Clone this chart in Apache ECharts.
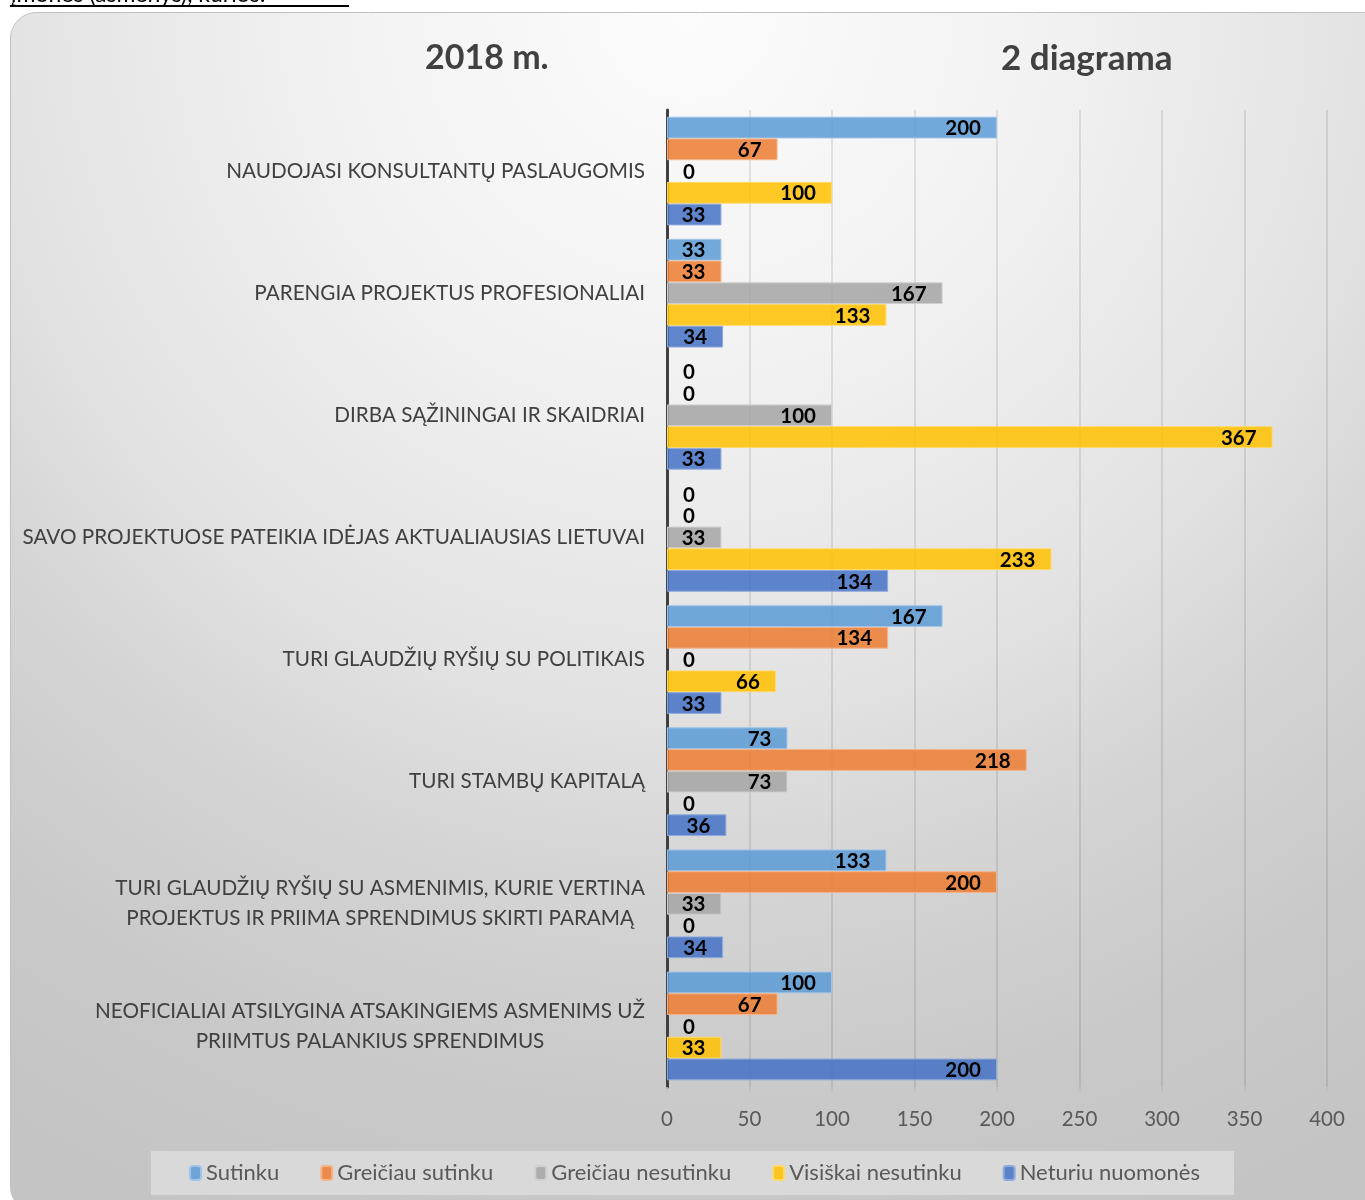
<!DOCTYPE html>
<html>
<head>
<meta charset="utf-8">
<style>
  html, body { margin: 0; padding: 0; background: #ffffff; }
  #chart { width: 1365px; height: 1200px; }
</style>
<script src="https://cdn.jsdelivr.net/npm/echarts@6/dist/echarts.min.js"></script>
</head>
<body>
<div id="chart"></div>
<script>
const categories = [
  'NAUDOJASI KONSULTANTŲ PASLAUGOMIS',
  'PARENGIA PROJEKTUS PROFESIONALIAI',
  'DIRBA SĄŽININGAI IR SKAIDRIAI',
  'SAVO PROJEKTUOSE PATEIKIA IDĖJAS AKTUALIAUSIAS LIETUVAI',
  'TURI GLAUDŽIŲ RYŠIŲ SU POLITIKAIS',
  'TURI STAMBŲ KAPITALĄ',
  'TURI GLAUDŽIŲ RYŠIŲ SU ASMENIMIS, KURIE VERTINA\nPROJEKTUS IR PRIIMA SPRENDIMUS SKIRTI PARAMĄ',
  'NEOFICIALIAI ATSILYGINA ATSAKINGIEMS ASMENIMS UŽ\nPRIIMTUS PALANKIUS SPRENDIMUS'
];
const seriesNames = ['Sutinku', 'Greičiau sutinku', 'Greičiau nesutinku', 'Visiškai nesutinku', 'Neturiu nuomonės'];
const sutinku            = [200, 33, 0, 0, 167, 73, 133, 100];
const greiciauSutinku    = [67, 33, 0, 0, 134, 218, 200, 67];
const greiciauNesutinku  = [0, 167, 100, 33, 0, 73, 33, 0];
const visiskaiNesutinku  = [100, 133, 367, 233, 66, 0, 0, 33];
const neturiuNuomones    = [33, 34, 33, 134, 33, 36, 34, 200];
const xTicks = [0, 50, 100, 150, 200, 250, 300, 350, 400];
const titleLeft = '2018 m.';
const titleRight = '2 diagrama';
const topText = 'įmonės (asmenys), kurios:';

const seriesData = [sutinku, greiciauSutinku, greiciauNesutinku, visiskaiNesutinku, neturiuNuomones];
const colors = ['rgba(91,155,213,0.85)', 'rgba(237,125,49,0.85)', 'rgba(165,165,165,0.85)', 'rgba(255,192,0,0.85)', 'rgba(68,114,196,0.85)'];
const borders = ['#9fc4e8', '#f4b48a', '#cfcfcf', '#ffd966', '#8faadc'];
const FONT = 'Lato';

const chart = echarts.init(document.getElementById('chart'), null, { renderer: 'canvas' });

const series = seriesNames.map((name, i) => ({
  name: name,
  type: 'bar',
  barGap: '0%',
  barCategoryGap: '11%',
  itemStyle: { color: colors[i], borderColor: borders[i], borderWidth: 1 },
  label: {
    show: true,
    position: 'insideRight',
    distance: 16,
    offset: [0, 1],
    color: '#000000',
    fontWeight: 'bold',
    fontFamily: FONT,
    fontSize: 20.5
  },
  data: seriesData[i].map(v => v === 0
    ? { value: v, itemStyle: { borderWidth: 0 }, label: { position: 'right', distance: 16 } }
    : v)
}));

const option = {
  animation: false,
  textStyle: { fontFamily: FONT },
  graphic: [
    {
      type: 'rect', z: -10, silent: true,
      shape: { x: 10.5, y: 12.5, width: 1380, height: 1200, r: 26 },
      style: {
        fill: {
          type: 'radial', x: 687, y: 12, r: 1310, global: true,
          colorStops: [
            { offset: 0, color: '#fcfcfc' },
            { offset: 0.27, color: '#f2f2f2' },
            { offset: 0.53, color: '#e2e2e2' },
            { offset: 0.66, color: '#d5d5d5' },
            { offset: 0.84, color: '#c9c9c9' },
            { offset: 1, color: '#c4c4c4' }
          ]
        },
        stroke: '#c0c0c0', lineWidth: 1
      }
    },
    {
      type: 'text', left: 11, top: -17, z: 10,
      style: { text: topText, fill: '#000000', font: '23px ' + FONT }
    },
    {
      type: 'rect', z: 10, silent: true,
      shape: { x: 10, y: 5, width: 339, height: 2 },
      style: { fill: '#000000' }
    },
    {
      type: 'text', z: 10,
      left: 425, top: 41,
      style: { text: titleLeft, fill: '#404040', font: 'bold 34px ' + FONT }
    },
    {
      type: 'text', z: 10,
      left: 1001, top: 41,
      style: { text: titleRight, fill: '#404040', font: 'bold 35px ' + FONT }
    }
  ],
  legend: {
    data: seriesNames,
    left: 151,
    top: 1151,
    backgroundColor: '#d9d9d9',
    padding: [11, 34, 11, 38],
    itemGap: 41,
    itemWidth: 11,
    itemHeight: 14,
    textStyle: { color: '#595959', fontSize: 22, fontFamily: FONT }
  },
  grid: { left: 667, right: 38, top: 110, bottom: 113, containLabel: false },
  xAxis: {
    type: 'value',
    min: 0, max: 400, interval: 50,
    axisLine: { show: false },
    axisTick: { show: true, length: 5, lineStyle: { color: '#bfbfbf', width: 1.5 } },
    splitLine: { show: true, lineStyle: { color: 'rgba(0,0,0,0.12)', width: 1.5 } },
    axisLabel: {
      color: '#595959', fontSize: 20.5, fontFamily: FONT, margin: 22,
      formatter: v => xTicks.includes(v) ? String(v) : ''
    }
  },
  yAxis: {
    type: 'category',
    inverse: true,
    data: categories,
    axisLine: { show: true, lineStyle: { color: '#404040', width: 3 } },
    axisTick: { show: false },
    axisLabel: {
      margin: 22,
      fontFamily: FONT,
      formatter: v => v.split('\n').map(l => '{c|' + l + '}').join('\n'),
      rich: { c: { align: 'center', color: '#404040', fontSize: 20.7, lineHeight: 30, fontFamily: FONT } }
    }
  },
  series: series
};
chart.setOption(option);
</script>
</body>
</html>
